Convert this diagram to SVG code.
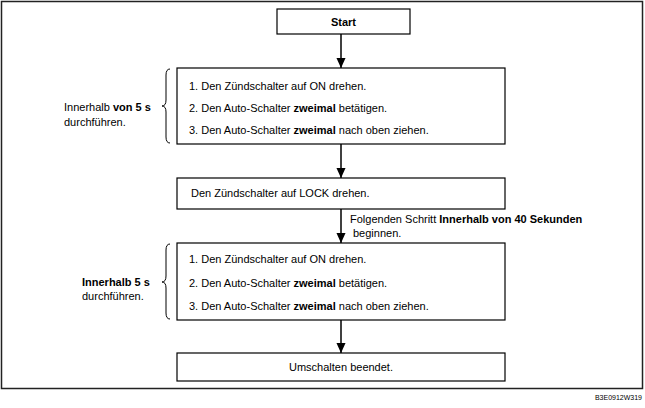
<svg xmlns="http://www.w3.org/2000/svg" width="645" height="408" viewBox="0 0 645 408">
<defs>
<style>
text{font-family:"Liberation Sans",Arial,sans-serif;font-size:11px;fill:#000}
.b{font-weight:bold}
.box{fill:#fff;stroke:#000;stroke-width:1.2}
.ln{stroke:#000;stroke-width:1.5;fill:none}
.br{stroke:#000;stroke-width:1;fill:none}
.ref{font-size:7px}
</style>
<marker id="ah" markerWidth="10" markerHeight="11" viewBox="0 0 11 10" refX="11" refY="5" orient="auto" markerUnits="userSpaceOnUse">
<path d="M0,0 L11,5 L0,10 Z" fill="#000"/>
</marker>
</defs>
<rect width="645" height="408" fill="#fff"/>
<rect id="frame" x="1.5" y="1.5" width="641" height="387" fill="none" stroke="#222" stroke-width="1.5"/>
<g id="connectors">
<line class="ln" x1="341" y1="34" x2="341" y2="68" marker-end="url(#ah)"/>
<line class="ln" x1="341" y1="144" x2="341" y2="178" marker-end="url(#ah)"/>
<line class="ln" x1="341" y1="209" x2="341" y2="243" marker-end="url(#ah)"/>
<line class="ln" x1="341" y1="320" x2="341" y2="353" marker-end="url(#ah)"/>
</g>
<g id="start">
<rect class="box" x="277" y="9" width="133" height="25"/>
<text class="b" x="343.5" y="25.5" text-anchor="middle">Start</text>
</g>
<g id="step1">
<rect class="box" x="177" y="68" width="328" height="76"/>
<text x="189" y="90">1. Den Zündschalter auf ON drehen.</text>
<text x="189" y="112">2. Den Auto-Schalter <tspan class="b">zweimal</tspan> betätigen.</text>
<text x="189" y="134">3. Den Auto-Schalter <tspan class="b">zweimal</tspan> nach oben ziehen.</text>
</g>
<g id="note1">
<path class="br" d="M170,69 Q166,69 166,75 L166,100 Q166,106 162,106 Q166,106 166,112 L166,137 Q166,143 170,143"/>
<text x="64" y="111">Innerhalb <tspan class="b">von 5 s</tspan></text>
<text x="64" y="126">durchführen.</text>
</g>
<g id="step2">
<rect class="box" x="177" y="178" width="328" height="31"/>
<text x="191" y="197">Den Zündschalter auf LOCK drehen.</text>
</g>
<g id="note2">
<text x="350" y="223">Folgenden Schritt <tspan class="b">Innerhalb von 40 Sekunden</tspan></text>
<text x="353" y="237">beginnen.</text>
</g>
<g id="step3">
<rect class="box" x="177" y="243" width="328" height="77"/>
<text x="189" y="263">1. Den Zündschalter auf ON drehen.</text>
<text x="189" y="287">2. Den Auto-Schalter <tspan class="b">zweimal</tspan> betätigen.</text>
<text x="189" y="310">3. Den Auto-Schalter <tspan class="b">zweimal</tspan> nach oben ziehen.</text>
</g>
<g id="note3">
<path class="br" d="M170,244 Q166,244 166,250 L166,276 Q166,282 162,282 Q166,282 166,288 L166,313 Q166,319 170,319"/>
<text class="b" x="82" y="286">Innerhalb 5 s</text>
<text x="82" y="300">durchführen.</text>
</g>
<g id="end">
<rect class="box" x="177" y="353" width="328" height="28"/>
<text x="341" y="371" text-anchor="middle">Umschalten beendet.</text>
</g>
<text class="ref" x="642" y="400" text-anchor="end">B3E0912W319</text>
</svg>
